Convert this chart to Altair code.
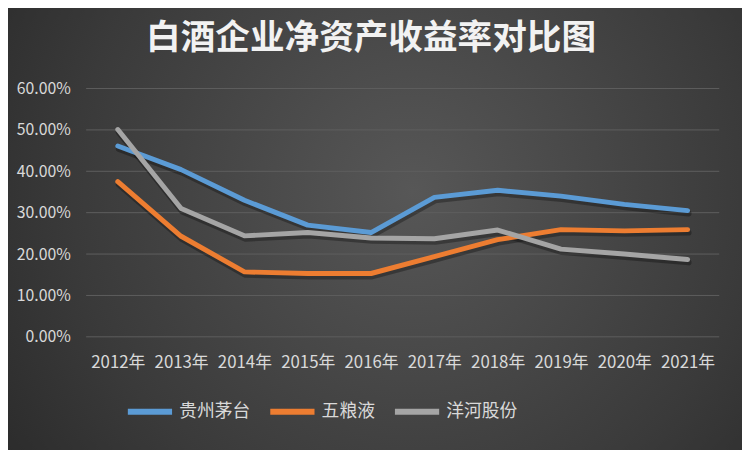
import altair as alt
import pandas as pd

years = ["2012年", "2013年", "2014年", "2015年", "2016年", "2017年", "2018年", "2019年", "2020年", "2021年"]
series_names = ["贵州茅台", "五粮液", "洋河股份"]
moutai = [0.461, 0.404, 0.330, 0.270, 0.252, 0.337, 0.354, 0.340, 0.320, 0.305]
wuliangye = [0.375, 0.243, 0.157, 0.153, 0.153, 0.194, 0.235, 0.259, 0.256, 0.259]
yanghe = [0.501, 0.310, 0.244, 0.252, 0.239, 0.237, 0.258, 0.212, 0.200, 0.187]
colors = ["#5B9BD5", "#ED7D31", "#A5A5A5"]
y_ticks = [0, 0.1, 0.2, 0.3, 0.4, 0.5, 0.6]
title_text = "白酒企业净资产收益率对比图"

rows = []
for name, vals in zip(series_names, [moutai, wuliangye, yanghe]):
    for yr, v in zip(years, vals):
        rows.append({"年份": yr, "公司": name, "ROE": v})
df = pd.DataFrame(rows)
grid_df = pd.DataFrame({"ROE": y_ticks})

FONT = "Noto Sans CJK SC"
W, H = 640, 251
PAD = {"left": 79, "top": 79, "right": 23, "bottom": 112}

bg = alt.Chart(pd.DataFrame({"a": [0]})).mark_rect(
    fill=alt.Gradient(
        gradient="radial",
        stops=[alt.GradientStop(color="#575757", offset=0),
               alt.GradientStop(color="#3a3a3a", offset=0.6),
               alt.GradientStop(color="#242424", offset=1)],
        x1=0.55, y1=0.45, r1=0, x2=0.55, y2=0.45, r2=0.75,
    )
).encode(
    x=alt.value(-PAD["left"] - 10), x2=alt.value(W + PAD["right"] + 10),
    y=alt.value(-PAD["top"] - 10), y2=alt.value(H + PAD["bottom"] + 10),
)

x_enc = alt.X("年份:N", sort=years, scale=alt.Scale(paddingOuter=0.5, paddingInner=0),
              axis=alt.Axis(title=None, labelAngle=0, ticks=False, domain=False, grid=False,
                            labelFont=FONT, labelFontSize=17, labelColor="#d9d9d9",
                            labelPadding=18, zindex=1))
y_scale = alt.Scale(domain=[0, 0.6], nice=False)
y_enc = alt.Y("ROE:Q", scale=y_scale,
              axis=alt.Axis(title=None, values=y_ticks, format=".2%", ticks=False, domain=False,
                            grid=False, labelFont=FONT, labelFontSize=16, labelColor="#d9d9d9",
                            labelPadding=16, zindex=1))

grid = alt.Chart(grid_df).mark_rule(color="#5e5e5e", strokeWidth=1).encode(
    y=y_enc, x=alt.value(0), x2=alt.value(W)
)

shadow = alt.Chart(df).mark_line(strokeWidth=6, strokeCap="round", strokeJoin="round",
                                 color="black", opacity=0.3, yOffset=3, xOffset=1).encode(
    x=x_enc, y=y_enc, detail="公司:N"
)

lines = alt.Chart(df).mark_line(strokeWidth=5, strokeCap="round", strokeJoin="round").encode(
    x=x_enc, y=y_enc,
    color=alt.Color("公司:N", scale=alt.Scale(domain=series_names, range=colors),
                    legend=alt.Legend(title=None, orient="none", direction="horizontal",
                                      legendX=39, legendY=301,
                                      symbolType="stroke", symbolSize=2000, symbolStrokeWidth=6,
                                      labelFont=FONT, labelFontSize=18, labelColor="#d9d9d9",
                                      labelOffset=4, columnPadding=8)),
)

title = alt.Chart(pd.DataFrame({"t": [title_text]})).mark_text(
    font=FONT, fontSize=35, fontWeight="bold", color="#f2f2f2",
    align="center", baseline="middle"
).encode(text="t:N", x=alt.value(288), y=alt.value(-51))

chart = alt.layer(bg, grid, shadow, lines, title).properties(
    width=W, height=H,
    padding=PAD,
    autosize=alt.AutoSizeParams(type="none"),
    background="#2b2b2b",
).configure_view(stroke=None)

chart.save("out.html", embed_options={"renderer": "svg", "actions": False})
